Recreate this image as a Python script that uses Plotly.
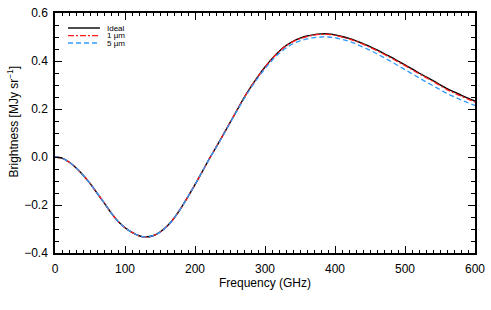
import plotly.graph_objects as go

freq = list(range(0, 601, 10))

ideal = [0.000, -0.005, -0.021, -0.045, -0.075, -0.110, -0.150, -0.190, -0.232, -0.268,
         -0.295, -0.314, -0.328, -0.333, -0.328, -0.313, -0.289, -0.255, -0.213, -0.165,
         -0.115, -0.063, -0.010, 0.040, 0.091, 0.143, 0.195, 0.246, 0.293, 0.336,
         0.375, 0.410, 0.440, 0.464, 0.482, 0.495, 0.504, 0.510, 0.513, 0.513,
         0.509, 0.502, 0.494, 0.484, 0.472, 0.460, 0.446, 0.431, 0.416, 0.400,
         0.384, 0.367, 0.350, 0.334, 0.318, 0.301, 0.285, 0.271, 0.258, 0.245,
         0.233]

one_um = [0.000, -0.005, -0.021, -0.045, -0.075, -0.110, -0.150, -0.190, -0.232, -0.268,
          -0.295, -0.314, -0.328, -0.333, -0.328, -0.313, -0.289, -0.255, -0.213, -0.165,
          -0.115, -0.063, -0.010, 0.040, 0.091, 0.143, 0.195, 0.246, 0.293, 0.335,
          0.374, 0.409, 0.439, 0.463, 0.481, 0.493, 0.502, 0.508, 0.511, 0.511,
          0.507, 0.500, 0.492, 0.482, 0.470, 0.457, 0.443, 0.428, 0.413, 0.397,
          0.381, 0.364, 0.347, 0.331, 0.315, 0.298, 0.281, 0.267, 0.254, 0.241,
          0.229]

five_um = [0.000, -0.005, -0.021, -0.045, -0.075, -0.110, -0.150, -0.190, -0.232, -0.268,
           -0.295, -0.314, -0.328, -0.333, -0.328, -0.313, -0.289, -0.255, -0.213, -0.165,
           -0.115, -0.062, -0.010, 0.039, 0.089, 0.141, 0.192, 0.242, 0.288, 0.330,
           0.368, 0.402, 0.431, 0.454, 0.472, 0.484, 0.492, 0.497, 0.500, 0.500,
           0.497, 0.490, 0.482, 0.471, 0.458, 0.445, 0.430, 0.414, 0.398, 0.381,
           0.364, 0.347, 0.330, 0.313, 0.297, 0.281, 0.265, 0.251, 0.238, 0.226,
           0.215]

names = ["Ideal", "1 \u00b5m", "5 \u00b5m"]
colors = ["#000000", "#ff1a1a", "#3399ff"]
dashes = ["solid", "6px,2px,2px,2px", "5px,3px"]
widths = [1.4, 1.3, 1.3]

fig = go.Figure()
for ys, n, c, d, w in zip([ideal, one_um, five_um], names, colors, dashes, widths):
    fig.add_trace(go.Scatter(x=freq, y=ys, mode="lines", name=n, line_shape="spline",
                             line=dict(color=c, dash=d, width=w), showlegend=False))

font = "Liberation Sans, Arial, Helvetica, sans-serif"
axis_common = dict(showline=True, linecolor="black", linewidth=1.5, mirror="allticks",
                   ticks="inside", ticklen=7, tickwidth=1, tickcolor="black",
                   showgrid=False, zeroline=False, automargin=False,
                   tickfont=dict(family=font, size=12, color="black"))

fig.update_xaxes(range=[0, 600], dtick=100, tick0=0, ticklabelstandoff=4,
                 minor=dict(dtick=10, ticks="inside", ticklen=3, tickcolor="black", showgrid=False),
                 title=dict(text="Frequency (GHz)", font=dict(family=font, size=12, color="black"),
                            standoff=2),
                 **axis_common)
fig.update_yaxes(range=[-0.4, 0.6], dtick=0.2, tick0=0, tickformat=".1f", ticklabelstandoff=3,
                 minor=dict(dtick=0.05, ticks="inside", ticklen=4, tickcolor="black", showgrid=False),
                 **axis_common)

# y-axis title
fig.add_annotation(text="Brightness [MJy sr<sup>\u22121</sup>]", xref="paper", yref="paper",
                   x=-0.1, y=0.548, xanchor="center", yanchor="middle", textangle=-90,
                   showarrow=False, font=dict(family=font, size=12, color="black"))

# manual compact legend
rows_y = [0.9375, 0.906, 0.875]
for n, c, d, w, yy in zip(names, colors, dashes, widths, rows_y):
    fig.add_shape(type="line", xref="paper", yref="paper", x0=0.031, x1=0.107, y0=yy, y1=yy,
                  line=dict(color=c, dash=d, width=w))
    fig.add_annotation(text=n, xref="paper", yref="paper", x=0.121, y=yy, xanchor="left",
                       yanchor="middle", showarrow=False, borderpad=0,
                       font=dict(family=font, size=8, color="black"))

fig.update_layout(width=491, height=310, margin=dict(l=55, r=16, t=13, b=57),
                  plot_bgcolor="white", paper_bgcolor="white",
                  font=dict(family=font, size=12, color="black"))

fig.write_html("out.html", config={"displayModeBar": False},
               post_script="document.body.style.margin='0';")
